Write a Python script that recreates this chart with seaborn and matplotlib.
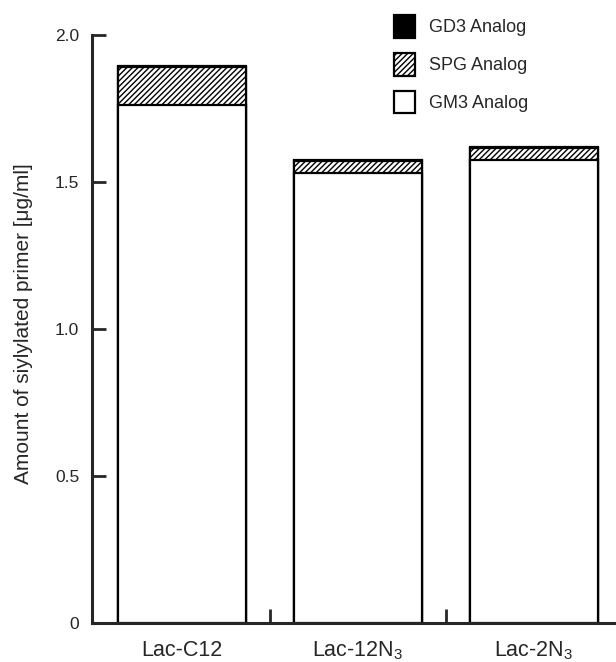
import numpy as np
import matplotlib
matplotlib.use("Agg")
import matplotlib.pyplot as plt
import seaborn as sns
from matplotlib.patches import Patch

# data
primers = ["Lac-C12", "Lac-12N$_3$", "Lac-2N$_3$"]
gm3 = [1.762, 1.531, 1.575]
spg = [0.128, 0.042, 0.042]
gd3 = [0.004, 0.003, 0.003]

sns.set_theme(style="ticks")
plt.rcParams["font.family"] = ["Liberation Sans", "DejaVu Sans"]
plt.rcParams["mathtext.default"] = "regular"
plt.rcParams["hatch.linewidth"] = 1.0

fig = plt.figure(figsize=(6.16, 6.62), dpi=100)
ax = fig.add_axes([0.149, 0.059, 0.851, 0.888])

gm3 = np.array(gm3)
spg = np.array(spg)
gd3 = np.array(gd3)

# stacked bars: draw cumulative totals from the top layer down
bar_kw = dict(width=0.727, saturation=1, edgecolor="black", linewidth=1.6, ax=ax)
sns.barplot(x=primers, y=gm3 + spg + gd3, color="black", **bar_kw)
sns.barplot(x=primers, y=gm3 + spg, color="white", hatch="//////", **bar_kw)
sns.barplot(x=primers, y=gm3, color="white", **bar_kw)

ax.set_xlim(-0.51, 2.468)
ax.set_ylim(0, 2.0)
ax.set_yticks([0, 0.5, 1.0, 1.5, 2.0])
ax.set_yticklabels(["0", "0.5", "1.0", "1.5", "2.0"], fontsize=12.5)
ax.tick_params(axis="y", direction="in", length=10, width=2, pad=9)

ax.set_xticks([0, 1, 2])
ax.set_xticklabels(primers, fontsize=15.5)
ax.tick_params(axis="x", which="major", length=0, pad=12)
ax.set_xticks([0.5, 1.5], minor=True)
ax.tick_params(axis="x", which="minor", direction="in", length=10, width=2)

for side in ["left", "bottom"]:
    ax.spines[side].set_linewidth(2.2)
sns.despine(ax=ax)

ax.set_ylabel("Amount of siylylated primer [μg/ml]", fontsize=15)
ax.yaxis.set_label_coords(-0.113, 0.51)
ax.set_xlabel("")

handles = [
    Patch(facecolor="black", edgecolor="black", linewidth=1.6),
    Patch(facecolor="white", edgecolor="black", hatch="//////", linewidth=1.6),
    Patch(facecolor="white", edgecolor="black", linewidth=1.6),
]
fig.legend(handles, ["GD3 Analog", "SPG Analog", "GM3 Analog"],
           loc="upper left", bbox_to_anchor=(0.614, 1.002), frameon=False,
           fontsize=13, handlelength=1.15, handleheight=1.55,
           handletextpad=0.75, labelspacing=0.85)

fig.savefig("out.png", dpi=100)
